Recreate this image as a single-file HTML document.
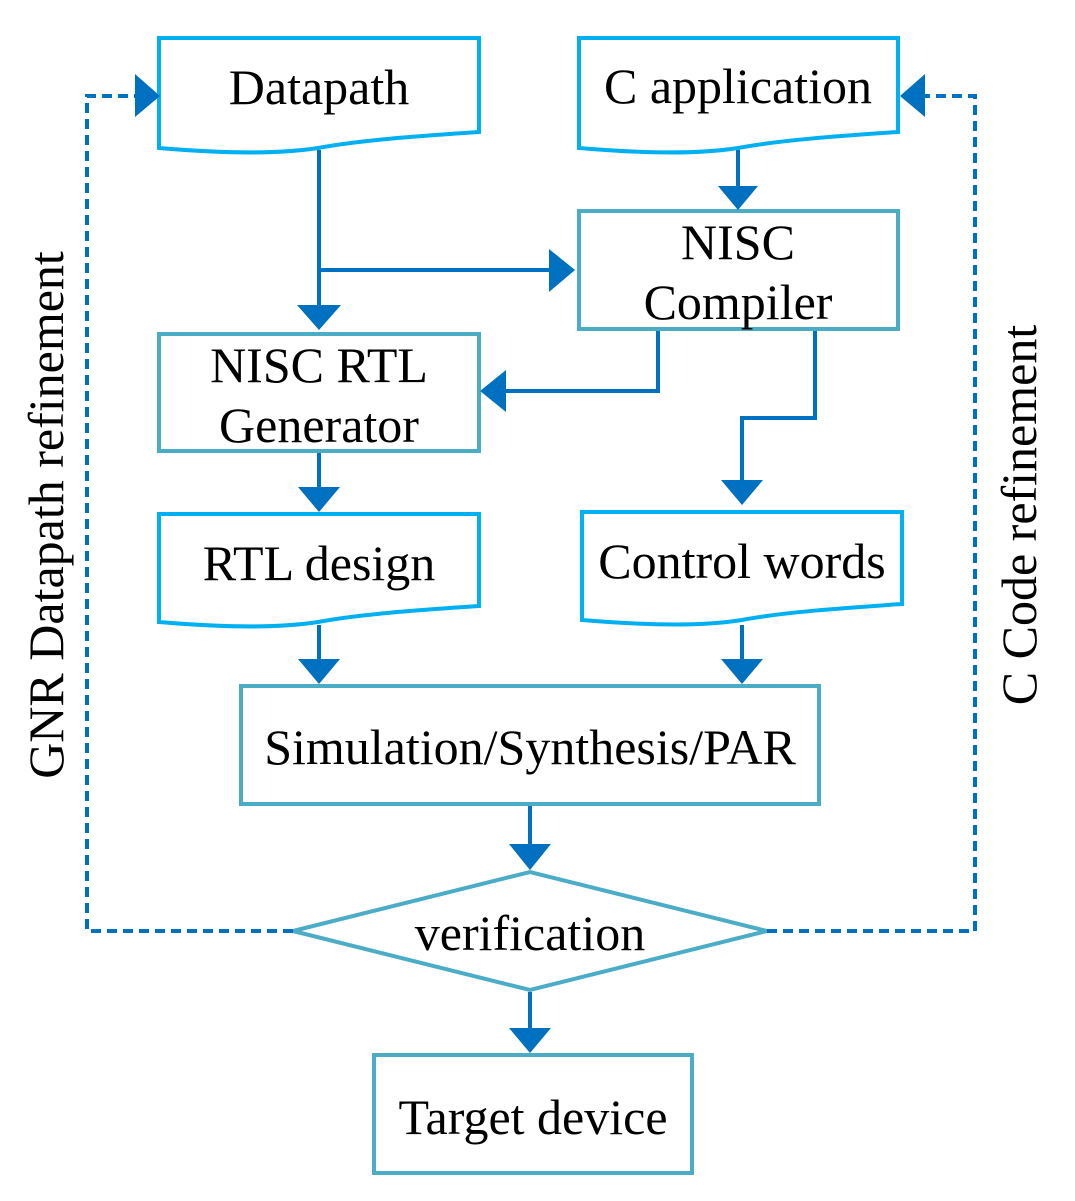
<!DOCTYPE html>
<html><head><meta charset="utf-8"><style>
html,body{margin:0;padding:0;background:#fff;}
svg{display:block;}
text{font-family:"Liberation Serif",serif;font-size:50px;fill:#000;}
</style></head><body>
<svg width="1075" height="1201" viewBox="0 0 1075 1201" xmlns="http://www.w3.org/2000/svg">
<g fill="#fff" stroke="#00B0F0" stroke-width="4">
<path d="M159,38 H479 V132 C420,136 360,140 318,148 C280,154 230,154 159,148 Z"/>
<path d="M579,38 H898 V132 C840,136 780,140 738,148 C700,154 650,154 579,148 Z"/>
<path d="M159,514 H479 V606 C420,610 360,614 318,622 C280,628 230,628 159,622 Z"/>
<path d="M582,512 H902 V604 C844,608 784,612 742,620 C704,626 654,626 582,620 Z"/>
</g>
<g fill="#fff" stroke="#4BACC6" stroke-width="4">
<rect x="579" y="211" width="319" height="118"/>
<rect x="159" y="334" width="320" height="117"/>
<rect x="241" y="686" width="578" height="118"/>
<polygon points="293,931 530,872 767,931 530,990"/>
<rect x="374" y="1055" width="318" height="118"/>
</g>
<g stroke="#0070C0" stroke-width="4" fill="none">
<path d="M319,150 V305"/>
<path d="M319,270 H550"/>
<path d="M738,150 V186"/>
<path d="M658,331 V391 H505"/>
<path d="M815,331 V418 H742 V480"/>
<path d="M319,453 V488"/>
<path d="M319,625 V660"/>
<path d="M742,625 V660"/>
<path d="M530,806 V845"/>
<path d="M530,992 V1028"/>
</g>
<g stroke="#0070C0" stroke-width="4" fill="none" stroke-dasharray="10,6">
<path d="M293,931 H87 V96 H135"/>
<path d="M767,931 H975 V96 H925"/>
</g>
<g fill="#0070C0">
<polygon points="297,305 341,305 319,330"/>
<polygon points="549,249 549,292 575,270"/>
<polygon points="718,186 758,186 738,210"/>
<polygon points="506,370 506,412 480,391"/>
<polygon points="721,480 763,480 742,505"/>
<polygon points="298,487 340,487 319,512"/>
<polygon points="298,659 340,659 319,684"/>
<polygon points="721,659 763,659 742,684"/>
<polygon points="509,844 551,844 530,870"/>
<polygon points="509,1028 551,1028 530,1053"/>
<polygon points="135,74 135,117 160,96"/>
<polygon points="925,74 925,117 900,96"/>
</g>
<g text-anchor="middle">
<text x="319" y="104">Datapath</text>
<text x="738" y="103">C application</text>
<text x="738" y="259">NISC</text>
<text x="738" y="319">Compiler</text>
<text x="319" y="382">NISC RTL</text>
<text x="319" y="442">Generator</text>
<text x="319" y="580">RTL design</text>
<text x="742" y="578">Control words</text>
<text x="530" y="764">Simulation/Synthesis/PAR</text>
<text x="530" y="950">verification</text>
<text x="533" y="1134">Target device</text>
<text transform="translate(63,515) rotate(-90)">GNR Datapath refinement</text>
<text transform="translate(1036,515) rotate(-90)">C Code refinement</text>
</g>
</svg>
</body></html>
